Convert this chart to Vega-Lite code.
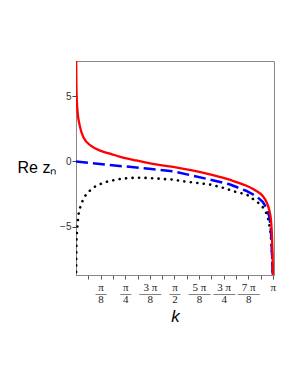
{
  "$schema": "https://vega.github.io/schema/vega-lite/v6.json",
  "autosize": {"type": "none"},
  "padding": {"left": 76, "top": 61, "right": 24, "bottom": 110},
  "width": 198,
  "height": 214,
  "background": "white",
  "config": {
    "view": {"stroke": "#888", "strokeWidth": 1},
    "axis": {"grid": false}
  },
  "data": {
    "values": [
      {"k": 0.001, "v": 8.4, "s": "red"},
      {"k": 0.003, "v": 7.6, "s": "red"},
      {"k": 0.008, "v": 5.42, "s": "red"},
      {"k": 0.024, "v": 3.88, "s": "red"},
      {"k": 0.058, "v": 2.8, "s": "red"},
      {"k": 0.12, "v": 1.85, "s": "red"},
      {"k": 0.247, "v": 1.18, "s": "red"},
      {"k": 0.407, "v": 0.8, "s": "red"},
      {"k": 0.566, "v": 0.57, "s": "red"},
      {"k": 0.694, "v": 0.38, "s": "red"},
      {"k": 0.96, "v": 0.08, "s": "red"},
      {"k": 1.225, "v": -0.18, "s": "red"},
      {"k": 1.55, "v": -0.42, "s": "red"},
      {"k": 2.054, "v": -0.89, "s": "red"},
      {"k": 2.45, "v": -1.4, "s": "red"},
      {"k": 2.713, "v": -1.85, "s": "red"},
      {"k": 2.873, "v": -2.25, "s": "red"},
      {"k": 2.98, "v": -2.65, "s": "red"},
      {"k": 3.044, "v": -3.15, "s": "red"},
      {"k": 3.085, "v": -3.75, "s": "red"},
      {"k": 3.112, "v": -4.5, "s": "red"},
      {"k": 3.128, "v": -5.8, "s": "red"},
      {"k": 3.135, "v": -6.9, "s": "red"},
      {"k": 3.1405, "v": -8.2, "s": "red"},
      {"k": 3.1415, "v": -9.2, "s": "red"},
      {"k": 0.0, "v": 0.0, "s": "blue"},
      {"k": 0.5, "v": -0.25, "s": "blue"},
      {"k": 1.17, "v": -0.56, "s": "blue"},
      {"k": 1.55, "v": -0.75, "s": "blue"},
      {"k": 2.054, "v": -1.3, "s": "blue"},
      {"k": 2.45, "v": -1.75, "s": "blue"},
      {"k": 2.713, "v": -2.25, "s": "blue"},
      {"k": 2.873, "v": -2.65, "s": "blue"},
      {"k": 2.98, "v": -3.1, "s": "blue"},
      {"k": 3.044, "v": -3.6, "s": "blue"},
      {"k": 3.085, "v": -4.25, "s": "blue"},
      {"k": 3.107, "v": -5.0, "s": "blue"},
      {"k": 3.117, "v": -6.0, "s": "blue"},
      {"k": 3.13, "v": -7.3, "s": "blue"},
      {"k": 3.1405, "v": -9.0, "s": "blue"},
      {"k": 0.001, "v": -9.0, "s": "dot"},
      {"k": 0.003, "v": -8.1, "s": "dot"},
      {"k": 0.005, "v": -7.0, "s": "dot"},
      {"k": 0.008, "v": -5.95, "s": "dot"},
      {"k": 0.024, "v": -4.82, "s": "dot"},
      {"k": 0.035, "v": -4.28, "s": "dot"},
      {"k": 0.051, "v": -3.74, "s": "dot"},
      {"k": 0.088, "v": -3.23, "s": "dot"},
      {"k": 0.13, "v": -2.74, "s": "dot"},
      {"k": 0.204, "v": -2.31, "s": "dot"},
      {"k": 0.29, "v": -1.97, "s": "dot"},
      {"k": 0.395, "v": -1.72, "s": "dot"},
      {"k": 0.5, "v": -1.54, "s": "dot"},
      {"k": 0.614, "v": -1.43, "s": "dot"},
      {"k": 0.72, "v": -1.33, "s": "dot"},
      {"k": 0.83, "v": -1.28, "s": "dot"},
      {"k": 0.95, "v": -1.25, "s": "dot"},
      {"k": 1.065, "v": -1.25, "s": "dot"},
      {"k": 1.17, "v": -1.28, "s": "dot"},
      {"k": 1.29, "v": -1.31, "s": "dot"},
      {"k": 1.4, "v": -1.35, "s": "dot"},
      {"k": 1.52, "v": -1.38, "s": "dot"},
      {"k": 1.74, "v": -1.54, "s": "dot"},
      {"k": 1.95, "v": -1.66, "s": "dot"},
      {"k": 2.16, "v": -1.79, "s": "dot"},
      {"k": 2.37, "v": -2.05, "s": "dot"},
      {"k": 2.53, "v": -2.31, "s": "dot"},
      {"k": 2.65, "v": -2.45, "s": "dot"},
      {"k": 2.756, "v": -2.62, "s": "dot"},
      {"k": 2.83, "v": -2.9, "s": "dot"},
      {"k": 2.916, "v": -3.2, "s": "dot"},
      {"k": 2.99, "v": -3.56, "s": "dot"},
      {"k": 3.048, "v": -4.07, "s": "dot"},
      {"k": 3.075, "v": -4.6, "s": "dot"},
      {"k": 3.096, "v": -5.2, "s": "dot"},
      {"k": 3.112, "v": -5.8, "s": "dot"},
      {"k": 3.13, "v": -7.3, "s": "dot"},
      {"k": 3.1405, "v": -9.0, "s": "dot"}
    ]
  },
  "encoding": {
    "x": {
      "field": "k", "type": "quantitative",
      "scale": {"domain": [0, 3.16], "nice": false, "zero": false},
      "axis": {
        "title": "k",
        "titleFont": "Liberation Sans", "titleFontSize": 17, "titleFontStyle": "italic", "titleFontWeight": "normal",
        "titleColor": "black", "titleBaseline": "alphabetic", "titleY": 46,
        "values": [0.19635, 0.392699, 0.589049, 0.785398, 0.981748, 1.178097, 1.374447, 1.570796, 1.767146, 1.963495, 2.159845, 2.356194, 2.552544, 2.748894, 2.945243, 3.141593],
        "labelExpr": "round(datum.value*16/PI) % 2 == 1 ? '' : [[''],['π','—','8'],['π','—','4'],['3 π','——','8'],['π','—','2'],['5 π','——','8'],['3 π','——','4'],['7 π','——','8'],['π']][round(datum.value*8/PI)]",
        "labelFont": "Liberation Serif", "labelFontSize": 11, "labelColor": "#222",
        "labelLineHeight": 6, "labelBaseline": "top", "labelPadding": 2,
        "labelOverlap": false, "labelFlush": false,
        "domainColor": "#888", "tickColor": "#555", "tickSize": 4
      }
    },
    "y": {
      "field": "v", "type": "quantitative",
      "scale": {"domain": [-8.73, 7.73], "nice": false, "zero": false},
      "axis": {
        "title": "Re zₙ",
        "titleFont": "Liberation Sans", "titleFontSize": 16, "titleFontWeight": "normal", "titleColor": "black",
        "titleAngle": 0, "titleAlign": "left", "titleBaseline": "alphabetic",
        "titleX": -59, "titleY": 111,
        "values": [-5, 0, 5],
        "labelExpr": "datum.value < 0 ? '−' + abs(datum.value) : datum.value + ''",
        "labelFont": "Liberation Sans", "labelFontSize": 10, "labelColor": "#333",
        "domainColor": "#888", "tickColor": "#444", "tickSize": 4, "labelPadding": 1
      }
    }
  },
  "layer": [
    {
      "transform": [{"filter": "datum.s == 'dot'"}],
      "mark": {"type": "line", "clip": true, "color": "black", "strokeWidth": 2.6, "strokeCap": "round", "strokeDash": [0.1, 6.4]}
    },
    {
      "transform": [{"filter": "datum.s == 'blue'"}],
      "mark": {"type": "line", "clip": true, "color": "#0000ff", "strokeWidth": 2.5, "strokeDash": [12, 5]}
    },
    {
      "transform": [{"filter": "datum.s == 'red'"}],
      "mark": {"type": "line", "clip": true, "color": "#ff0000", "strokeWidth": 2.3, "interpolate": "monotone"}
    }
  ]
}
